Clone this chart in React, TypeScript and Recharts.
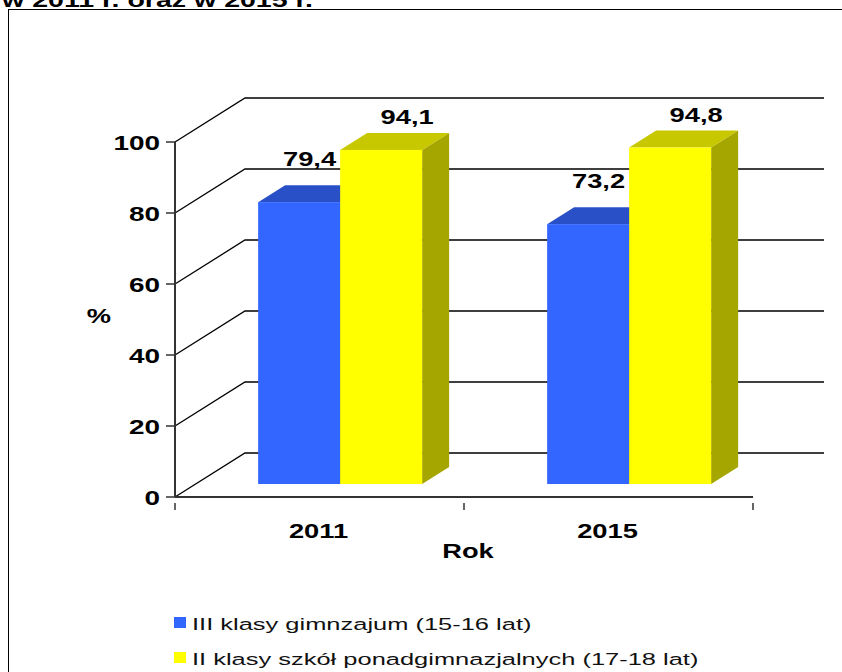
import React from 'react';
import { BarChart, Bar, XAxis, YAxis, CartesianGrid, Legend, LabelList } from 'recharts';

const years = ['2011', '2015'];
const gimnazjum = [79.4, 73.2];
const ponadgimnazjalne = [94.1, 94.8];
const yTicks = [0, 20, 40, 60, 80, 100];
const seriesNames = ['III klasy gimnzajum (15-16 lat)', 'II klasy szkół ponadgimnazjalnych (17-18 lat)'];
const titleText = 'w 2011 r. oraz w 2015 r.';
const xAxisTitle = 'Rok';
const yAxisTitle = '%';

const data = years.map((year, i) => ({ year, a: gimnazjum[i], b: ponadgimnazjalne[i] }));

const FONT = '"Liberation Sans", Arial, sans-serif';
const WALL_DX = 70;
const WALL_DY = 44;
const BAR_SHIFT_X = 21;
const BAR_SHIFT_Y = 13;
const BAR_DX = 27;
const BAR_DY = 17;

const BLUE = { front: '#3366FF', top: '#2A50C8', side: '#2440A8' };
const YELLOW = { front: '#FFFF00', top: '#C8C800', side: '#A6A600' };

function SText(props: any) {
  const { x, y, anchor = 'middle', size = 21, weight = 'bold', scale = 1.3, fill = '#000', children } = props;
  return (
    <text
      transform={`translate(${x},${y}) scale(${scale},1)`}
      textAnchor={anchor}
      fontSize={size}
      fontWeight={weight}
      fontFamily={FONT}
      fill={fill}
    >
      {children}
    </text>
  );
}

function Box3D(props: any) {
  const { x, y, width, height, colors } = props;
  if (x == null || y == null) return null;
  const fx = x + BAR_SHIFT_X;
  const fy = y - BAR_SHIFT_Y;
  const top = `${fx},${fy} ${fx + BAR_DX},${fy - BAR_DY} ${fx + width + BAR_DX},${fy - BAR_DY} ${fx + width},${fy}`;
  const side = `${fx + width},${fy} ${fx + width + BAR_DX},${fy - BAR_DY} ${fx + width + BAR_DX},${fy + height - BAR_DY} ${fx + width},${fy + height}`;
  return (
    <g>
      <polygon points={side} fill={colors.side} />
      <polygon points={top} fill={colors.top} />
      <rect x={fx} y={fy} width={width} height={height} fill={colors.front} />
    </g>
  );
}

const fmt = (v: number) => v.toFixed(1).replace('.', ',');

function BlueLabel(props: any) {
  const { x, y, width, value } = props;
  return (
    <SText x={x + BAR_SHIFT_X + width - 4} y={y - BAR_SHIFT_Y - 36.5} anchor="end">
      {fmt(Number(value))}
    </SText>
  );
}

function YellowLabel(props: any) {
  const { x, y, width, value } = props;
  return (
    <SText x={x + BAR_SHIFT_X + width / 2 + 26} y={y - BAR_SHIFT_Y - 25.5} anchor="middle">
      {fmt(Number(value))}
    </SText>
  );
}

function GridLine(props: any) {
  const { x1, y1, x2 } = props;
  const pts = `${x1},${y1} ${x1 + WALL_DX},${y1 - WALL_DY} ${x2 + WALL_DX + 1},${y1 - WALL_DY}`;
  return <polyline key={`grid-${y1}`} points={pts} fill="none" stroke="#000" strokeWidth={1.3} />;
}

function YTick(props: any) {
  const { x, y, payload } = props;
  return (
    <SText x={x - 4} y={y + 7.5} anchor="end" scale={1.33}>
      {payload.value}
    </SText>
  );
}

function XTick(props: any) {
  const { x, y, payload, index, visibleTicksCount } = props;
  const half = payload.offset || 0;
  const axisY = y - 2;
  const count = visibleTicksCount || years.length;
  return (
    <g>
      <line x1={x - half} y1={axisY} x2={x - half} y2={axisY + 7} stroke="#333" strokeWidth={1.5} />
      {index === count - 1 && (
        <line x1={x + half} y1={axisY} x2={x + half} y2={axisY + 7} stroke="#333" strokeWidth={1.5} />
      )}
      <SText x={x - 1} y={axisY + 35}>{payload.value}</SText>
    </g>
  );
}

function XTitle(props: any) {
  const vb = props.viewBox || {};
  return (
    <SText x={vb.x + vb.width / 2 + 4} y={vb.y + 61}>
      {xAxisTitle}
    </SText>
  );
}

function YTitle(props: any) {
  const vb = props.viewBox || {};
  return (
    <SText x={vb.x + vb.width - 76} y={vb.y + vb.height / 2 + 3}>
      {yAxisTitle}
    </SText>
  );
}

function LegendContent(props: any) {
  const items = [...(props.payload || [])].sort(
    (p: any, q: any) => seriesNames.indexOf(p.value) - seriesNames.indexOf(q.value)
  );
  return (
    <svg width={842} height={672} style={{ position: 'absolute', left: 0, top: 0 }}>
      {items.map((it: any, i: number) => (
        <g key={i}>
          <rect x={174} y={617 + i * 35} width={12} height={11} fill={it.color} />
          <SText x={192} y={630 + i * 35} anchor="start" size={17.2} weight="normal" scale={1.48} fill="#111">
            {it.value}
          </SText>
        </g>
      ))}
    </svg>
  );
}

export default function App() {
  return (
    <div style={{ position: 'absolute', left: 0, top: 0, width: 842, height: 672, background: '#fff', overflow: 'hidden' }}>
      <div
        style={{
          position: 'absolute',
          left: 8,
          top: 9,
          width: 900,
          height: 700,
          borderLeft: '1px solid #000',
          borderTop: '1px solid #000',
        }}
      />
      <svg width={842} height={20} style={{ position: 'absolute', left: 0, top: 0 }}>
        <SText x={313} y={7} anchor="end" scale={1.36}>{titleText}</SText>
      </svg>
      <div style={{ position: 'absolute', left: 0, top: 0 }}>
        <BarChart
          width={842}
          height={672}
          data={data}
          margin={{ top: 142, right: 89, left: 115, bottom: 115 }}
          barCategoryGap="21.5%"
          barGap={0}
        >
          <CartesianGrid vertical={false} horizontal={(p: any) => <GridLine {...p} />} />
          <XAxis
            dataKey="year"
            height={60}
            tickLine={false}
            axisLine={{ stroke: '#333', strokeWidth: 2 }}
            tick={<XTick />}
            interval={0}
            label={<XTitle />}
          />
          <YAxis
            width={60}
            domain={[0, 100]}
            ticks={yTicks}
            interval={0}
            tickSize={9}
            tickLine={{ stroke: '#333', strokeWidth: 1.5 }}
            axisLine={{ stroke: '#333', strokeWidth: 2 }}
            tick={<YTick />}
            label={<YTitle />}
          />
          <Legend
            layout="vertical"
            align="center"
            verticalAlign="middle"
            wrapperStyle={{ position: 'absolute', left: 0, top: 0, width: 842, height: 672, pointerEvents: 'none' }}
            content={<LegendContent />}
          />
          <Bar
            dataKey="a"
            name={seriesNames[0]}
            fill={BLUE.front}
            isAnimationActive={false}
            shape={(p: any) => <Box3D {...p} colors={BLUE} />}
          >
            <LabelList dataKey="a" content={<BlueLabel />} />
          </Bar>
          <Bar
            dataKey="b"
            name={seriesNames[1]}
            fill={YELLOW.front}
            isAnimationActive={false}
            shape={(p: any) => <Box3D {...p} colors={YELLOW} />}
          >
            <LabelList dataKey="b" content={<YellowLabel />} />
          </Bar>
        </BarChart>
      </div>
    </div>
  );
}
